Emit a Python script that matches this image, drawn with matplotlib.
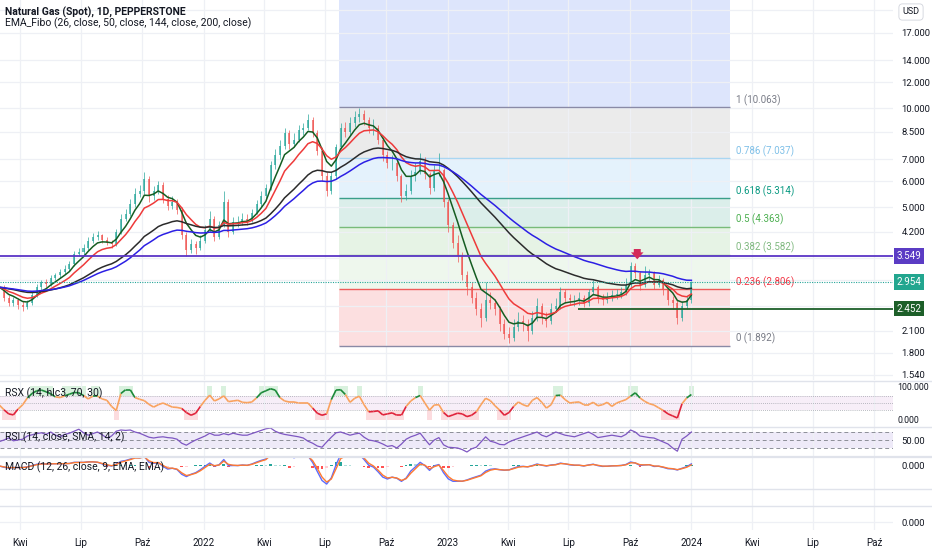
import numpy as np
import pandas as pd
import matplotlib
matplotlib.use('Agg')
import matplotlib.pyplot as plt
import matplotlib.dates as mdates
import matplotlib.transforms as mtransforms
from matplotlib.collections import LineCollection
from matplotlib.lines import Line2D

plt.rcParams['font.family'] = ['Liberation Sans Narrow', 'Roboto', 'DejaVu Sans']

# weekly samples, first week starts 2021-03-01
start_date = '2021-03-01'

close = [2.85, 2.65, 2.55, 2.60, 2.52, 2.48, 2.55, 2.70, 2.85, 2.95,
         2.92, 3.05, 3.10, 3.18, 3.25, 3.35, 3.60, 3.65, 3.75, 3.95,
         4.05, 4.10, 3.98, 3.90, 3.85, 4.20, 4.60, 4.75, 5.10, 5.50,
         5.60, 6.10, 5.40, 5.60, 5.85, 5.30, 5.05, 5.20, 4.90, 4.10,
         3.70, 3.85, 3.75, 3.95, 4.25, 4.60, 4.05, 4.40, 5.20, 4.20,
         4.50, 4.50, 4.60, 4.55, 4.80, 5.10, 5.40, 5.70, 6.70, 7.20,
         7.70, 8.40, 7.80, 8.00, 8.60, 8.70, 9.20, 8.40, 7.40, 6.20,
         5.60, 6.20, 7.60, 8.70, 8.50, 9.00, 9.40, 9.60, 9.20, 8.70,
         8.70, 8.00, 7.20, 6.80, 6.80, 6.20, 5.40, 5.60, 6.20, 6.40,
         6.90, 6.30, 5.70, 6.50, 6.50, 5.20, 4.40, 3.90, 3.55, 3.10,
         2.85, 2.65, 2.45, 2.30, 2.60, 2.55, 2.45, 2.20, 2.05, 2.00,
         2.15, 2.25, 2.20, 2.10, 2.30, 2.50, 2.30, 2.25, 2.45, 2.50,
         2.75, 2.65, 2.60, 2.60, 2.65, 2.55, 2.75, 2.85, 2.65, 2.60,
         2.65, 2.70, 2.70, 2.75, 2.90, 3.30, 3.15, 2.90, 3.10, 3.15,
         2.90, 3.00, 2.80, 2.60, 2.55, 2.30, 2.50, 2.60, 2.954]

high = [3.02, 2.90, 2.70, 2.66, 2.64, 2.58, 2.60, 2.76, 2.92, 3.00,
        3.02, 3.10, 3.16, 3.25, 3.32, 3.42, 3.68, 3.76, 3.85, 4.05,
        4.18, 4.22, 4.15, 4.05, 3.98, 4.30, 4.75, 4.95, 5.30, 5.70,
        5.85, 6.40, 6.20, 5.80, 6.00, 5.95, 5.45, 5.40, 5.30, 5.00,
        4.20, 4.00, 3.95, 4.10, 4.40, 4.85, 4.70, 4.55, 5.60, 5.30,
        4.65, 4.70, 4.80, 4.75, 4.95, 5.25, 5.60, 5.90, 6.90, 7.50,
        8.00, 8.70, 8.60, 8.40, 8.90, 9.00, 9.60, 9.40, 8.60, 7.60,
        6.40, 6.40, 7.80, 9.00, 9.10, 9.40, 9.80, 10.06, 9.90, 9.40,
        9.30, 8.90, 8.20, 7.40, 7.20, 7.00, 6.30, 5.90, 6.50, 6.80,
        7.30, 7.10, 6.40, 6.70, 7.30, 6.60, 5.30, 4.50, 4.10, 3.65,
        3.20, 2.95, 2.75, 2.55, 2.95, 2.75, 2.62, 2.50, 2.28, 2.15,
        2.28, 2.40, 2.35, 2.28, 2.42, 2.65, 2.55, 2.40, 2.55, 2.65,
        2.85, 2.82, 2.72, 2.70, 2.75, 2.70, 2.82, 3.00, 2.90, 2.72,
        2.75, 2.80, 2.82, 2.85, 3.05, 3.40, 3.38, 3.20, 3.30, 3.25,
        3.20, 3.10, 3.05, 2.85, 2.68, 2.60, 2.58, 2.68, 2.98]

low = [2.78, 2.58, 2.50, 2.50, 2.45, 2.42, 2.44, 2.52, 2.66, 2.80,
       2.86, 2.88, 3.00, 3.05, 3.12, 3.20, 3.30, 3.55, 3.58, 3.70,
       3.90, 3.98, 3.90, 3.82, 3.75, 3.80, 4.15, 4.55, 4.70, 5.00,
       5.35, 5.50, 5.20, 5.25, 5.50, 5.15, 4.90, 4.95, 4.75, 4.00,
       3.55, 3.62, 3.60, 3.70, 3.90, 4.20, 3.95, 4.00, 4.35, 4.05,
       4.15, 4.35, 4.40, 4.40, 4.50, 4.75, 5.00, 5.30, 5.65, 6.55,
       7.00, 7.50, 7.50, 7.60, 7.90, 8.30, 8.60, 8.20, 7.20, 6.00,
       5.40, 5.50, 6.10, 7.50, 8.20, 8.30, 8.80, 9.10, 8.90, 8.40,
       8.30, 7.80, 6.90, 6.60, 6.50, 6.00, 5.20, 5.25, 5.50, 6.00,
       6.30, 6.10, 5.50, 5.60, 6.20, 5.00, 4.20, 3.75, 3.40, 3.00,
       2.70, 2.55, 2.35, 2.15, 2.25, 2.45, 2.35, 2.10, 1.98, 1.93,
       1.95, 2.10, 2.10, 1.95, 2.05, 2.25, 2.20, 2.15, 2.20, 2.40,
       2.45, 2.55, 2.52, 2.50, 2.52, 2.48, 2.50, 2.70, 2.55, 2.52,
       2.55, 2.58, 2.62, 2.65, 2.70, 2.85, 3.05, 2.80, 2.85, 3.00,
       2.82, 2.85, 2.70, 2.52, 2.45, 2.20, 2.25, 2.45, 2.55]

rsx = [44, 30, 18, 15, 32, 45, 65, 78, 86, 88,
       83, 77, 68, 66, 71, 76, 81, 80, 72, 62,
       70, 70, 62, 58, 40, 28, 78, 89, 89, 66,
       61, 57, 46, 38, 45, 50, 44, 38, 37, 34,
       22, 14, 20, 40, 58, 73, 56, 62, 71, 54,
       56, 58, 52, 51, 53, 65, 80, 86, 92, 88,
       66, 56, 53, 53, 50, 50, 50, 35, 20, 14,
       18, 60, 88, 89, 75, 52, 64, 70, 45, 24,
       25, 27, 15, 18, 21, 14, 14, 40, 56, 66,
       72, 50, 29, 44, 45, 22, 10, 15, 20, 18,
       10, 14, 24, 45, 64, 57, 42, 29, 14, 22,
       40, 53, 45, 40, 58, 66, 52, 35, 45, 72,
       73, 60, 50, 52, 53, 45, 45, 52, 42, 45,
       52, 40, 50, 55, 60, 70, 80, 65, 55, 48,
       44, 36, 28, 18, 12, 6, 48, 65, 75]

rsi = [46, 50, 55, 48, 50, 52, 60, 63, 66, 68,
       64, 70, 62, 58, 64, 67, 72, 77, 68, 62,
       66, 70, 63, 55, 60, 72, 75, 74, 75, 70,
       67, 62, 57, 55, 57, 58, 56, 55, 52, 42,
       37, 44, 50, 55, 60, 67, 62, 62, 66, 63,
       67, 64, 62, 62, 66, 70, 74, 78, 80, 72,
       67, 64, 62, 60, 58, 55, 47, 42, 35, 32,
       45, 57, 68, 70, 66, 62, 65, 67, 57, 50,
       48, 45, 40, 34, 36, 30, 40, 52, 58, 62,
       67, 52, 38, 50, 56, 38, 32, 31, 30, 26,
       20, 28, 32, 45, 58, 47, 44, 39, 38, 45,
       50, 54, 58, 62, 66, 70, 62, 58, 64, 70,
       66, 62, 60, 58, 62, 66, 70, 64, 56, 58,
       60, 62, 60, 58, 64, 75, 70, 60, 58, 56,
       55, 50, 45, 40, 30, 22, 52, 60, 70]

ema_lengths = [26, 50, 144, 200]
ema_colors = ['#155d22', '#ee3a3a', '#2b2b2b', '#2c1fe4']

fib_labels = ['1', '0.786', '0.618', '0.5', '0.382', '0.236', '0']
fib_values = [10.063, 7.037, 5.314, 4.363, 3.582, 2.806, 1.892]
fib_line_colors = ['#8a8aa6', '#a9d6f2', '#3a9f8a', '#79bb79', '#98c598', '#ef5a5a', '#8a8aa6']
fib_text_colors = ['#787b86', '#7fc0e8', '#089981', '#4caf50', '#7fb87f', '#f23645', '#787b86']
fib_fill_colors = ['#dde5fc', '#ebebeb', '#e4f2fc', '#dbeeea', '#e6f3e5', '#eef7ed', '#fcdfe0']
fib_start = '2022-07-22'
fib_end = '2024-02-28'

price_ticks = [1.54, 1.8, 2.1, 2.5, 3.0, 3.5, 4.2, 5, 6, 7, 8.5, 10, 12, 14, 17, 20]
hidden_ticks = [2.5, 3.0, 3.5, 20]

resist_level = 3.549
last_price = 2.954
support_level = 2.452
support_from = '2023-07-15'
arrow_date = '2023-10-12'

time_ticks = pd.date_range('2021-04-01', '2024-10-01', freq='QS')
month_names = {1: None, 4: 'Kwi', 7: 'Lip', 10: 'Paź'}

# ---------------------------------------------------------------
dates = pd.date_range(start_date, periods=len(close), freq='7D')
dn = mdates.date2num(dates)
c = np.array(close)
o = np.r_[c[0], c[:-1]]
h = np.array(high)
l = np.array(low)
s = pd.Series(c)

W, H = 932, 550
AX_R = 893
fig = plt.figure(figsize=(W / 100, H / 100), dpi=100)
fig.patch.set_facecolor('white')


def pane(top, bottom):
    ax = fig.add_axes([0, 1 - bottom / H, AX_R / W, (bottom - top) / H])
    for sp in ax.spines.values():
        sp.set_visible(False)
    ax.set_facecolor('white')
    return ax


x0 = mdates.date2num(pd.Timestamp('2021-03-02'))
x1 = x0 + AX_R / 0.668
grid_c = '#eef0f5'
txt_c = '#131722'

ax = pane(0, 380)
ax_rsx = pane(382, 427)
ax_rsi = pane(427, 457)
ax_macd = pane(457, 489)
ax_mid = pane(489, 506)
ax_last = pane(506, 530)
all_axes = [ax, ax_rsx, ax_rsi, ax_macd, ax_mid, ax_last]

tick_nums = mdates.date2num(time_ticks)
tick_text = [month_names[t.month] or str(t.year) for t in time_ticks]
for a in all_axes:
    a.set_xlim(x0, x1)
    a.set_xticks(tick_nums)
    a.set_axisbelow(True)
    a.grid(axis='x', color=grid_c, lw=0.9)
    a.tick_params(axis='x', length=0, labelbottom=False)
    a.yaxis.tick_right()
    a.tick_params(axis='y', length=0, pad=6, labelsize=6.8, labelcolor=txt_c)

# ---------------- main price pane ----------------
ax.set_yscale('log')
ax.set_ylim(1.486, 21.4)
ax.yaxis.set_minor_locator(matplotlib.ticker.NullLocator())
ax.set_yticks(price_ticks)
ax.set_yticklabels(['' if t in hidden_ticks else f'{t:.3f}' for t in price_ticks])
ax.grid(axis='y', color=grid_c, lw=0.9)

fs, fe = mdates.date2num(pd.Timestamp(fib_start)), mdates.date2num(pd.Timestamp(fib_end))
ax.fill_between([fs, fe], fib_values[0], 40, color=fib_fill_colors[0], lw=0, zorder=0.2)
for i in range(len(fib_values) - 1):
    ax.fill_between([fs, fe], fib_values[i + 1], fib_values[i],
                    color=fib_fill_colors[i + 1], lw=0, zorder=0.2)
for lab, val, lc, tc in zip(fib_labels, fib_values, fib_line_colors, fib_text_colors):
    ax.hlines(val, fs, fe, color=lc, lw=1.0, zorder=1)
    ax.annotate(f'{lab} ({val:.3f})', xy=(fe, val), xytext=(6, 7), textcoords='offset pixels',
                va='center', ha='left', fontsize=7, color=tc)

# candles
up = c >= o
cols = np.where(up, '#26a69a', '#ef5350')
ax.vlines(dn, l, h, colors=cols, lw=0.7, alpha=0.7, zorder=2)
ax.bar(dn, np.maximum(np.abs(c - o), 0.01), bottom=np.minimum(o, c), width=3.0,
       color=cols, alpha=0.7, zorder=2, lw=0)

for n, col in zip(ema_lengths, ema_colors):
    ema = s.ewm(span=n / 5, adjust=False).mean()
    ax.plot(dn, ema, color=col, lw=1.1, zorder=3)

ax.axhline(resist_level, color='#5a35c6', lw=1.3, zorder=4)
ax.axhline(last_price, color='#26a69a', lw=0.8, ls=(0, (1, 1.2)), zorder=4)
ax.hlines(support_level, mdates.date2num(pd.Timestamp(support_from)), x1,
          color='#1d5f29', lw=1.3, zorder=4)

blend = mtransforms.blended_transform_factory(ax.transAxes, ax.transData)
for val, fc in [(resist_level, '#5b3cc4'), (last_price, '#22a68f'), (support_level, '#1d5f29')]:
    ax.text(1.004, val, f'{val:.3f}', transform=blend, ha='left', va='center', fontsize=7,
            color='white', zorder=10, clip_on=False,
            bbox=dict(boxstyle='square,pad=0.28', fc=fc, ec='none'))

ad = mdates.date2num(pd.Timestamp(arrow_date))
ax.annotate('', xy=(ad, 3.40), xytext=(ad, 3.80),
            arrowprops=dict(arrowstyle='simple,head_length=0.5,head_width=0.9,tail_width=0.5',
                            fc='#d42a5b', ec='none'), zorder=6)

# ---------------- RSX pane ----------------
rx = np.array(rsx, dtype=float)
ax_rsx.set_ylim(-20.6, 111.8)
ax_rsx.tick_params(axis='y', pad=3, labelsize=6.3)
ax_rsx.axhspan(30, 70, color='#f7eef8', lw=0, zorder=0.1)
for lv in [70, 50, 30]:
    ax_rsx.axhline(lv, color='#a3a6ae', lw=0.6, ls=(0, (1, 1.5)), zorder=0.6)
hi_mask = rx >= 70
lo_mask = rx <= 30
ax_rsx.bar(dn[hi_mask], 30, bottom=70, width=7, color='#d9f1de', lw=0, zorder=0.3)
ax_rsx.bar(dn[lo_mask], 30, bottom=0, width=7, color='#fcdcdf', lw=0, zorder=0.3)
pts = np.column_stack([dn, rx])
segs = np.stack([pts[:-1], pts[1:]], axis=1)
mids = (rx[:-1] + rx[1:]) / 2
seg_cols = ['#1c8a3a' if m >= 69 else '#e0243b' if m <= 31 else '#f9a25e' for m in mids]
ax_rsx.add_collection(LineCollection(segs, colors=seg_cols, linewidths=1.2, zorder=3))
ax_rsx.set_yticks([0, 100])
ax_rsx.set_yticklabels(['0.000', '100.000'])

# ---------------- RSI pane ----------------
ax_rsi.set_ylim(7.5, 82.5)
ax_rsi.axhspan(30, 70, color='#eeeaf8', lw=0, zorder=0.1)
for lv in [70, 50, 30]:
    ax_rsi.axhline(lv, color='#8c8f98', lw=0.7, ls=(0, (4, 3)), zorder=0.6)
ax_rsi.plot(dn, rsi, color='#7e57c2', lw=0.9, zorder=3)
ax_rsi.set_yticks([50])
ax_rsi.set_yticklabels(['50.00'])

# ---------------- MACD pane ----------------
macd = s.ewm(span=12 / 5, adjust=False).mean() - s.ewm(span=26 / 5, adjust=False).mean()
signal = macd.ewm(span=9 / 5, adjust=False).mean()
hist = (macd - signal).values
prev = np.r_[hist[0], hist[:-1]]
hcols = np.where(hist >= 0, np.where(hist >= prev, '#26a69a', '#b2dfdb'),
                 np.where(hist <= prev, '#ff5252', '#ffcdd2'))
ax_macd.set_ylim(-0.96, 0.375)
ax_macd.bar(dn, hist, width=4, color=hcols, lw=0, zorder=2)
ax_macd.plot(dn, macd, color='#5b6cff', lw=1.0, zorder=3)
ax_macd.plot(dn, signal, color='#ff7a30', lw=1.0, zorder=3)
ax_macd.set_yticks([0])
ax_macd.set_yticklabels(['0.000'])

ax_mid.set_yticks([])
ax_last.set_ylim(-1, 2)
ax_last.set_yticks([0])
ax_last.set_yticklabels(['0.000'])
ax_last.grid(axis='y', color=grid_c, lw=0.9)
ax_last.tick_params(axis='x', labelbottom=True, pad=6, labelsize=7, labelcolor=txt_c)
ax_last.set_xticklabels(tick_text)

# pane separators
for ypx, lw in [(381, 1.0), (427, 1.0), (457, 1.6), (489, 1.0), (506, 1.0)]:
    fig.add_artist(Line2D([0, 1], [1 - ypx / H] * 2, color='#e0e3eb', lw=lw))

# texts
fig.text(5 / W, 1 - 12 / H, 'Natural Gas (Spot), 1D, PEPPERSTONE', fontsize=7.5,
         color=txt_c, va='center', ha='left', fontweight='bold')
fig.text(5 / W, 1 - 23 / H, 'EMA_Fibo (26, close, 50, close, 144, close, 200, close)',
         fontsize=7.5, color=txt_c, va='center', ha='left')
fig.text(5 / W, 1 - 393 / H, 'RSX (14, hlc3, 70, 30)', fontsize=7.5, color=txt_c, va='center')
fig.text(5 / W, 1 - 437 / H, 'RSI (14, close, SMA, 14, 2)', fontsize=7.5, color=txt_c, va='center')
fig.text(5 / W, 1 - 467 / H, 'MACD (12, 26, close, 9, EMA, EMA)', fontsize=7.5, color=txt_c,
         va='center')
fig.text(911 / W, 1 - 12 / H, 'USD', fontsize=6.5, color=txt_c, ha='center', va='center',
         bbox=dict(boxstyle='round,pad=0.4', fc='white', ec='#d1d4dc', lw=0.6))

fig.savefig('out.png', dpi=100)
